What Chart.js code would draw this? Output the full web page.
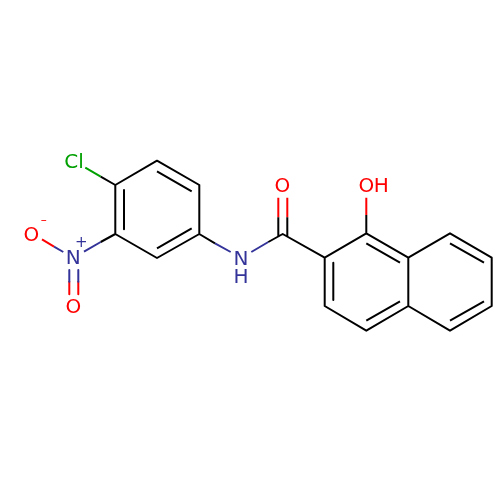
<!DOCTYPE html>
<html>
<head>
<meta charset="utf-8">
<script src="https://cdn.jsdelivr.net/npm/chart.js@4/dist/chart.umd.min.js"></script>
<style>
    html, body { margin: 0; padding: 0; background: #fff; }
    canvas { display: block; }
</style>
</head>
<body>
<canvas id="chartMolecule" width="500" height="500"></canvas>
<script>
// bond paths, null splits one path from the next
const blackBondX = [115.3, 157, 199.3, 199.3, 157, 115.3, 115.3, null,
    157, 191.7, null, 191.7, 157, null, 124, 124, null,
    115.3, 100.7, null, 115.3, 100.7, null, 199.3, 215, null,
    268.3, 282.7, 324.7, null, 278.3, 278.3, null, 287.3, 287.3, null,
    324.7, 366.3, 408.3, 408.3, 366.3, 324.7, 324.7, null,
    408.3, 450, 491.7, 491.7, 450, 408.3, null,
    366.3, 400, null, 333.3, 333.3, null, 366.3, 400, null,
    450, 484, null, 484, 450, null, 366.3, 366.3];
const blackBondY = [185, 160.7, 185, 234, 258, 234, 185, null,
    171.3, 191.3, null, 228.3, 248.3, null, 190, 229.3, null,
    185, 176.7, null, 234, 242, null, 234, 243.3, null,
    242, 234, 257.7, null, 236, 217.3, null, 236, 217.3, null,
    257.7, 233.3, 257.7, 306, 330.7, 306, 257.7, null,
    257.7, 233.3, 257.7, 306, 330.7, 306, null,
    243.3, 262.7, null, 262.7, 300, null, 320.7, 301.3, null,
    243.3, 262.7, null, 301.3, 320.7, null, 233.3, 215];

const blueBondX = [100.7, 84, null, 63.3, 54, null, 69.3, 69.3, null, 78.3, 78.3, null, 215, 230.7, null, 251.3, 268.3];
const blueBondY = [242, 251.7, null, 252, 246.7, null, 270, 281.7, null, 270, 281.7, null, 243.3, 252, null, 252, 242];

const redBondX = [54, 42, null, 69.3, 69.3, null, 78.3, 78.3, null, 278.3, 278.3, null, 287.3, 287.3, null, 366.3, 366.3];
const redBondY = [246.7, 239.3, null, 281.7, 294.3, null, 281.7, 294.3, null, 217.3, 197.7, null, 217.3, 197.7, null, 215, 197.7];

const greenBondX = [100.7, 85.3];
const greenBondY = [176.7, 167.7];

// atom labels
const clLabels = ['Cl'];
const clX = [74];
const clY = [162.5];
const nLabels = ['N', 'N', 'H'];
const nX = [73.3, 241, 241];
const nY = [258.3, 259.3, 277.3];
const oLabels = ['O', 'O', 'O', 'O', 'H'];
const oX = [31.3, 73.3, 282.3, 366.3, 381.3];
const oY = [235.3, 307.3, 186.7, 186.7, 186.7];
const plusLabels = ['+'];
const plusX = [81.3];
const plusY = [242.7];
const minusLabels = ['–'];
const minusX = [43.7];
const minusY = [220.5];

const BLACK = '#000000';
const BLUE = '#333399';
const RED = '#ff0000';
const GREEN = '#00a000';

const toPoints = (xs, ys) => xs.map((x, i) => ({x: x, y: ys[i]}));

const bondSet = (xs, ys, color) => ({
    data: toPoints(xs, ys),
    showLine: true,
    spanGaps: false,
    borderColor: color,
    borderWidth: 2,
    borderJoinStyle: 'round',
    pointRadius: 0,
    pointHoverRadius: 0
});

const labelSet = (texts, xs, ys, color, size) => ({
    data: toPoints(xs, ys),
    showLine: false,
    pointRadius: 0,
    pointHoverRadius: 0,
    atomTexts: texts,
    atomColor: color,
    atomSize: size
});

// draws the atom letters at the points of the label datasets
const atomLabels = {
    id: 'atomLabels',
    afterDatasetsDraw(chart) {
        const ctx = chart.ctx;
        chart.data.datasets.forEach((set, i) => {
            if (!set.atomTexts) return;
            const meta = chart.getDatasetMeta(i);
            ctx.save();
            ctx.fillStyle = set.atomColor;
            ctx.font = set.atomSize + 'px "DejaVu Sans"';
            ctx.textAlign = 'center';
            ctx.textBaseline = 'middle';
            set.atomTexts.forEach((text, j) => {
                ctx.fillText(text, meta.data[j].x, meta.data[j].y);
            });
            ctx.restore();
        });
    }
};

new Chart(document.getElementById('chartMolecule'), {
    type: 'scatter',
    data: {
        datasets: [
            bondSet(blackBondX, blackBondY, BLACK),
            bondSet(blueBondX, blueBondY, BLUE),
            bondSet(redBondX, redBondY, RED),
            bondSet(greenBondX, greenBondY, GREEN),
            labelSet(clLabels, clX, clY, GREEN, 20),
            labelSet(nLabels, nX, nY, BLUE, 20),
            labelSet(oLabels, oX, oY, RED, 20),
            labelSet(plusLabels, plusX, plusY, BLUE, 15),
            labelSet(minusLabels, minusX, minusY, RED, 12)
        ]
    },
    options: {
        responsive: false,
        animation: false,
        devicePixelRatio: 1,
        layout: {padding: 0},
        plugins: {
            legend: {display: false},
            tooltip: {enabled: false}
        },
        scales: {
            x: {type: 'linear', display: false, min: 0, max: 500},
            y: {type: 'linear', display: false, min: 0, max: 500, reverse: true}
        }
    },
    plugins: [atomLabels]
});
</script>
</body>
</html>
